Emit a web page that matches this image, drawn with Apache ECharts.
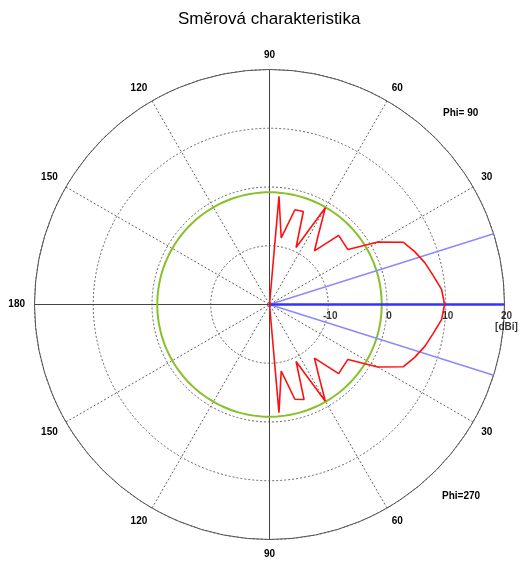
<!DOCTYPE html>
<html>
<head>
<meta charset="utf-8">
<script src="https://cdn.jsdelivr.net/npm/echarts@6/dist/echarts.min.js"></script>
<style>
  html, body { margin: 0; padding: 0; background: #fff; }
  #chart { width: 522px; height: 562px; }
</style>
</head>
<body>
<div id="chart"></div>
<script>
// Elevation cut of the antenna gain, in dBi, sampled every 5 degrees of theta.
const thetaDeg = [0, 5, 10, 15, 20, 25, 30, 35, 40, 45, 50, 55, 60, 65, 70, 75, 80, 85, 90];
// Phi = 90 half (upper) and Phi = 270 half (lower), same theta order
const gainPhi90 = [9.8, 9.4, 8.3, 7.4, 6.3, 5.1, 1.3, -3.7, -3.6, -3.35, -8.1, -5.5, -1.0, -9.3, -3.15, -3.3, -8.5, -1.5, -20];
const gainPhi270 = [9.8, 9.4, 8.3, 7.4, 6.3, 5.1, 1.3, -3.7, -3.6, -3.35, -8.1, -5.5, -1.0, -9.3, -2.8, -3.3, -8.5, -1.5, -20];
// Reference level circle and half-power beam edges
const refLevel = -0.9;
const beamDirection = 0;
const beamEdges = [17.5, -17.5];
// Scale of the plot (dBi) and its labelled ticks
const rMin = -20, rMax = 20, rStep = 10;
const radiusTicks = [-10, 0, 10, 20];
const radiusUnit = '[dBi]';
const angleStep = 30;

const pattern = [];
for (let i = thetaDeg.length - 1; i >= 0; i--) pattern.push([gainPhi270[i], (360 - thetaDeg[i]) % 360]);
for (let i = 1; i < thetaDeg.length; i++) pattern.push([gainPhi90[i], thetaDeg[i]]);

const refCircle = [];
for (let a = 0; a <= 360; a += 2) refCircle.push([refLevel, a]);

const chart = echarts.init(document.getElementById('chart'), null, { renderer: 'canvas' });
const labelFont = { fontFamily: 'Liberation Sans', fontWeight: 'bold', fontSize: 10, color: '#000' };

chart.setOption({
  animation: false,
  backgroundColor: '#fff',
  title: {
    text: 'Směrová charakteristika',
    left: 173,
    top: 6,
    textStyle: { fontFamily: 'Liberation Sans', fontWeight: 'normal', fontSize: 17, color: '#000' }
  },
  polar: { center: [269.5, 304.5], radius: 235 },
  angleAxis: {
    type: 'value', min: 0, max: 360, interval: angleStep,
    startAngle: 0, clockwise: false,
    axisLine: { lineStyle: { color: '#555', width: 1 } },
    axisTick: { show: false },
    axisLabel: Object.assign({
      margin: 9.5,
      align: 'center',
      verticalAlign: 'middle',
      formatter: v => (v === 0 || v === 360) ? '' : String(v <= 180 ? v : 360 - v)
    }, labelFont),
    splitLine: { show: true, lineStyle: { color: '#666', width: 1, type: [2, 2] } }
  },
  radiusAxis: {
    type: 'value', min: rMin, max: rMax, interval: rStep,
    axisLine: { show: false },
    axisTick: { show: false },
    axisLabel: { show: false },
    splitLine: { show: true, lineStyle: { color: '#666', width: 1, type: [2, 2] } }
  },
  graphic: [
    { type: 'text', left: 443, top: 108, style: { text: 'Phi= 90', font: 'bold 10px "Liberation Sans"', fill: '#000' } },
    { type: 'text', left: 442, top: 491, style: { text: 'Phi=270', font: 'bold 10px "Liberation Sans"', fill: '#000' } }
  ],
  series: [
    { type: 'line', coordinateSystem: 'polar', symbol: 'none', silent: true,
      lineStyle: { color: '#444', width: 1 }, data: [[rMax, 90], [rMax, 270]] },
    { type: 'line', coordinateSystem: 'polar', symbol: 'none', silent: true,
      lineStyle: { color: '#444', width: 1 }, data: [[rMax, 180], [rMin, 0]] },
    { type: 'line', coordinateSystem: 'polar', symbol: 'none', silent: true,
      lineStyle: { color: '#88c02a', width: 2 }, data: refCircle },
    { type: 'line', coordinateSystem: 'polar', symbol: 'none', silent: true,
      lineStyle: { color: '#8a8aff', width: 1.5 }, data: [[rMax, beamEdges[0]], [rMin, 0], [rMax, 360 + beamEdges[1]]] },
    { type: 'line', coordinateSystem: 'polar', symbol: 'none', silent: true,
      lineStyle: { color: '#3333ff', width: 2.5 }, data: [[rMin, beamDirection], [rMax, beamDirection]] },
    { type: 'line', coordinateSystem: 'polar', symbol: 'none', silent: true,
      lineStyle: { color: '#ff1010', width: 1.6 }, data: pattern },
    // radial scale labels, placed under the 0-degree axis
    { type: 'scatter', coordinateSystem: 'polar', silent: true, symbolSize: 0,
      data: radiusTicks.map(v => [v, 0]),
      label: Object.assign({
        show: true, position: 'bottom', distance: 6, offset: [2, 0], lineHeight: 11,
        formatter: p => p.value[0] === rMax ? p.value[0] + '\n' + radiusUnit : String(p.value[0])
      }, labelFont) }
  ]
});
</script>
</body>
</html>
